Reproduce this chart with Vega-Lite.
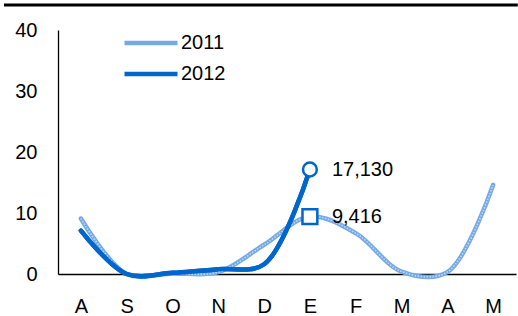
{
  "$schema": "https://vega.github.io/schema/vega-lite/v6.json",
  "width": 458,
  "height": 244,
  "autosize": {"type": "none"},
  "padding": {"left": 58, "top": 30, "right": 2, "bottom": 42},
  "background": "white",
  "config": {
    "view": {"stroke": null},
    "font": "Liberation Sans",
    "axis": {"labelFont": "Liberation Sans", "labelFontSize": 20, "labelColor": "black", "domainColor": "black", "domainWidth": 1.3, "ticks": false, "grid": false, "title": null}
  },
  "datasets": {
    "series": [
      {"mes": "Ago", "serie": "2011", "valor": 9.1},
      {"mes": "Sep", "serie": "2011", "valor": 0},
      {"mes": "Oct", "serie": "2011", "valor": 0.1},
      {"mes": "Nov", "serie": "2011", "valor": 0.3},
      {"mes": "Dic", "serie": "2011", "valor": 4.8},
      {"mes": "Ene", "serie": "2011", "valor": 9.416},
      {"mes": "Feb", "serie": "2011", "valor": 6.7},
      {"mes": "Mar", "serie": "2011", "valor": 0.4},
      {"mes": "Abr", "serie": "2011", "valor": 0.3},
      {"mes": "May", "serie": "2011", "valor": 14.6},
      {"mes": "Ago", "serie": "2012", "valor": 7.1},
      {"mes": "Sep", "serie": "2012", "valor": 0},
      {"mes": "Oct", "serie": "2012", "valor": 0.2},
      {"mes": "Nov", "serie": "2012", "valor": 0.8},
      {"mes": "Dic", "serie": "2012", "valor": 1.6},
      {"mes": "Ene", "serie": "2012", "valor": 17.13}
    ],
    "marcas": [
      {"mes": "Ene", "forma": "cuadro", "valor": 9.416, "etiqueta": "9,416"},
      {"mes": "Ene", "forma": "circulo", "valor": 17.13, "etiqueta": "17,130"}
    ],
    "marco": [{"x0": -0.118, "x1": 1.004, "y": 44.1}]
  },
  "layer": [
    {
      "layer": [
        {
          "data": {"name": "series"},
          "mark": {"type": "line", "interpolate": "catmull-rom", "strokeWidth": 4.5, "strokeCap": "round"},
          "encoding": {
            "x": {"field": "mes", "type": "nominal", "sort": ["Ago","Sep","Oct","Nov","Dic","Ene","Feb","Mar","Abr","May"], "scale": {"type": "point", "padding": 0.5}, "axis": {"labelExpr": "substring(datum.label,0,1)", "labelAngle": 0, "labelPadding": 22}},
            "y": {"field": "valor", "type": "quantitative", "scale": {"domain": [0, 40]}, "axis": {"values": [0,10,20,30,40], "labelPadding": 21}},
            "color": {"field": "serie", "type": "nominal", "scale": {"domain": ["2011","2012"], "range": ["#74a9e6","#0066cc"]},
              "legend": {"orient": "none", "legendX": 64, "legendY": 3, "title": null, "symbolType": "stroke", "symbolSize": 2809, "symbolStrokeWidth": 4.5, "labelFontSize": 20, "labelColor": "black", "labelOffset": 1, "rowPadding": 11, "clipHeight": 20, "padding": 0}}
          }
        },
        {
          "data": {"name": "series"},
          "transform": [{"filter": "datum.serie === '2011'"}],
          "mark": {"type": "line", "interpolate": "catmull-rom", "strokeWidth": 1.6, "color": "white", "opacity": 0.55, "strokeDash": [1.5, 1.5]},
          "encoding": {
            "x": {"field": "mes", "type": "nominal", "sort": ["Ago","Sep","Oct","Nov","Dic","Ene","Feb","Mar","Abr","May"]},
            "y": {"field": "valor", "type": "quantitative"}
          }
        },
        {
          "data": {"name": "series"},
          "transform": [{"filter": "datum.serie === '2012'"}],
          "mark": {"type": "line", "interpolate": "catmull-rom", "strokeWidth": 4.5, "strokeCap": "round", "color": "#0066cc"},
          "encoding": {
            "x": {"field": "mes", "type": "nominal", "sort": ["Ago","Sep","Oct","Nov","Dic","Ene","Feb","Mar","Abr","May"]},
            "y": {"field": "valor", "type": "quantitative"}
          }
        },
        {
          "data": {"name": "marcas"},
          "mark": {"type": "point", "filled": false, "fill": "white", "fillOpacity": 1, "stroke": "#0066cc", "strokeWidth": 2.5, "opacity": 1},
          "encoding": {
            "x": {"field": "mes", "type": "nominal", "sort": ["Ago","Sep","Oct","Nov","Dic","Ene","Feb","Mar","Abr","May"]},
            "y": {"field": "valor", "type": "quantitative"},
            "shape": {"field": "forma", "type": "nominal", "scale": {"domain": ["cuadro","circulo"], "range": ["square","circle"]}, "legend": null},
            "size": {"field": "forma", "type": "nominal", "scale": {"domain": ["cuadro","circulo"], "range": [220, 190]}, "legend": null}
          }
        },
        {
          "data": {"name": "marcas"},
          "mark": {"type": "text", "align": "left", "baseline": "middle", "dx": 22, "fontSize": 20, "color": "black"},
          "encoding": {
            "x": {"field": "mes", "type": "nominal", "sort": ["Ago","Sep","Oct","Nov","Dic","Ene","Feb","Mar","Abr","May"]},
            "y": {"field": "valor", "type": "quantitative"},
            "text": {"field": "etiqueta", "type": "nominal"}
          }
        }
      ]
    },
    {
      "data": {"name": "marco"},
      "mark": {"type": "rule", "strokeWidth": 3, "color": "black"},
      "encoding": {
        "x": {"field": "x0", "type": "quantitative", "scale": {"domain": [0, 1]}, "axis": null},
        "x2": {"field": "x1"},
        "y": {"field": "y", "type": "quantitative", "scale": {"domain": [0, 40]}, "axis": null}
      }
    }
  ],
  "resolve": {"scale": {"x": "independent", "y": "independent"}}
}
